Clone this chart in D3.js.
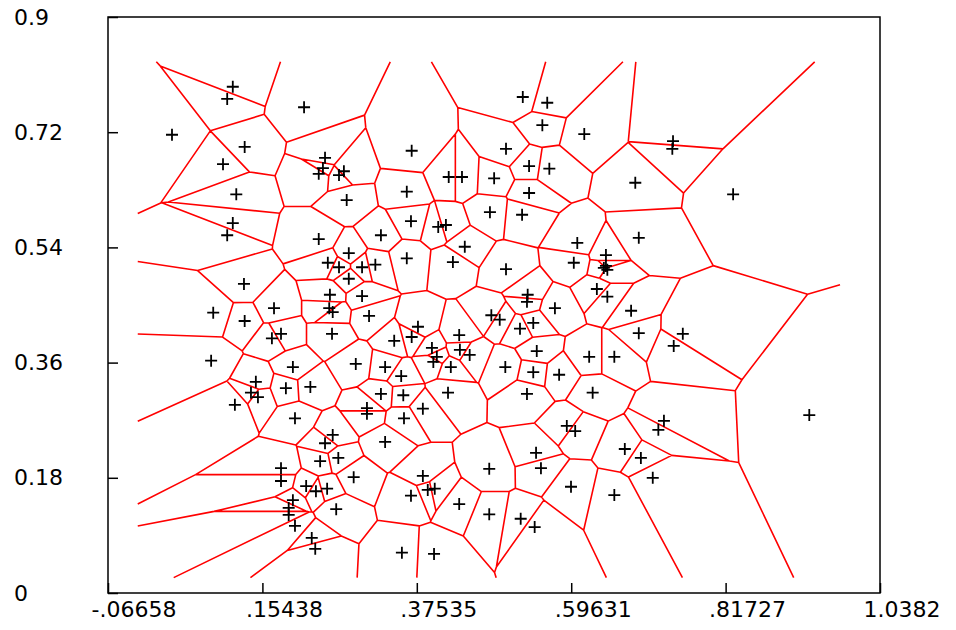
<!DOCTYPE html>
<html><head><meta charset="utf-8">
<script src="https://cdn.jsdelivr.net/npm/d3@7"></script>
<style>body{margin:0;background:#fff}</style>
</head><body>
<svg id="c" width="956" height="630"></svg>
<script>
const xTicks = [-0.06658, 0.15438, 0.37535, 0.59631, 0.81727, 1.0382];
const xTickLabels = ["-.06658", ".15438", ".37535", ".59631", ".81727", "1.0382"];
const yTicks = [0, 0.18, 0.36, 0.54, 0.72, 0.9];
const yTickLabels = ["0", "0.18", "0.36", "0.54", "0.72", "0.9"];
const xDomain = [-0.06658, 1.0382];
const yDomain = [0, 0.9];
// clipping box of the Voronoi rays (data units)
const clipBox = [-0.024, 0.024, 0.981, 0.83];

const ptX = [0.112,0.104,0.214,0.025,0.129,0.098,0.117,0.112,0.104,0.368,
0.244,0.241,0.235,0.271,0.264,0.421,0.440,0.361,0.275,0.367,
0.406,0.417,0.235,0.324,0.444,0.527,0.562,0.555,0.615,0.503,
0.536,0.565,0.486,0.688,0.536,0.480,0.526,0.605,0.693,0.742,
0.741,0.828,0.128,0.084,0.129,0.171,0.181,0.168,0.081,0.198,
0.145,0.188,0.223,0.138,0.148,0.115,0.278,0.361,0.427,0.248,
0.264,0.297,0.316,0.278,0.251,0.297,0.250,0.255,0.307,0.377,
0.254,0.368,0.436,0.343,0.397,0.437,0.451,0.404,0.399,0.424,
0.288,0.330,0.353,0.420,0.324,0.356,0.304,0.384,0.304,0.646,
0.600,0.503,0.643,0.648,0.646,0.633,0.534,0.533,0.648,0.573,
0.682,0.482,0.494,0.542,0.523,0.693,0.547,0.622,0.658,0.502,
0.542,0.579,0.627,0.533,0.756,0.743,0.937,0.201,0.181,0.181,
0.217,0.198,0.192,0.192,0.201,0.225,0.230,0.357,0.255,0.244,
0.330,0.263,0.237,0.285,0.384,0.231,0.247,0.391,0.401,0.367,
0.436,0.260,0.354,0.400,0.590,0.602,0.673,0.696,0.546,0.553,
0.479,0.713,0.596,0.658,0.479,0.524,0.544,0.729,0.721];
const ptY = [0.791,0.772,0.759,0.716,0.697,0.670,0.623,0.578,0.559,0.691,
0.680,0.664,0.655,0.659,0.653,0.650,0.650,0.627,0.614,0.581,
0.572,0.575,0.553,0.559,0.541,0.775,0.766,0.731,0.717,0.694,
0.667,0.663,0.648,0.641,0.625,0.595,0.591,0.547,0.555,0.706,
0.694,0.623,0.483,0.438,0.425,0.445,0.405,0.398,0.363,0.353,
0.330,0.320,0.322,0.313,0.306,0.294,0.531,0.523,0.517,0.516,
0.509,0.509,0.513,0.491,0.466,0.464,0.445,0.439,0.433,0.416,
0.405,0.400,0.403,0.394,0.383,0.380,0.372,0.369,0.361,0.353,
0.358,0.353,0.339,0.313,0.311,0.309,0.289,0.288,0.280,0.528,
0.516,0.506,0.508,0.505,0.511,0.475,0.466,0.455,0.463,0.445,
0.441,0.434,0.427,0.422,0.413,0.406,0.378,0.369,0.369,0.353,
0.345,0.341,0.313,0.311,0.405,0.386,0.278,0.273,0.195,0.175,
0.167,0.145,0.133,0.122,0.105,0.086,0.069,0.273,0.247,0.234,
0.236,0.211,0.206,0.181,0.183,0.159,0.163,0.161,0.163,0.152,
0.139,0.131,0.063,0.061,0.261,0.253,0.225,0.211,0.219,0.195,
0.194,0.180,0.166,0.153,0.123,0.116,0.103,0.269,0.255];

const L = 108, R = 880, T = 17, B = 593;
const svg = d3.select("#c");
const x = d3.scaleLinear().domain(xDomain).range([L, R]);
const y = d3.scaleLinear().domain(yDomain).range([B, T]);
const font = "'DejaVu Sans', sans-serif";

// Voronoi computed in data space, drawn through the scales
const pts = ptX.map((v, i) => [v, ptY[i]]);
const vor = d3.Delaunay.from(pts).voronoi(clipBox);
const path = d3.path();
const ctx = {
  moveTo: (a, b) => path.moveTo(x(a), y(b)),
  lineTo: (a, b) => path.lineTo(x(a), y(b)),
  closePath: () => path.closePath()
};
vor.render(ctx);
svg.append("path").attr("d", path.toString())
  .attr("fill", "none").attr("stroke", "#ff0000").attr("stroke-width", 1.6)
  .attr("stroke-linejoin", "round");

// points
const s = 6;
svg.append("g").selectAll("path").data(pts).join("path")
  .attr("d", d => `M${x(d[0]) - s},${y(d[1])}h${2 * s}M${x(d[0])},${y(d[1]) - s}v${2 * s}`)
  .attr("stroke", "#000").attr("stroke-width", 1.8).attr("fill", "none");

// frame
svg.append("rect").attr("x", L).attr("y", T).attr("width", R - L).attr("height", B - T)
  .attr("fill", "none").attr("stroke", "#000").attr("stroke-width", 1.5);

// axes
const gx = svg.append("g").attr("transform", `translate(0,${B})`)
  .call(d3.axisBottom(x).tickValues(xTicks).tickSize(-10).tickFormat((d, i) => xTickLabels[i]));
gx.select(".domain").remove();
gx.selectAll("line").attr("stroke", "#000").attr("stroke-width", 1.5);
gx.selectAll("text").attr("font-family", font).attr("font-size", 22).attr("fill", "#000")
  .attr("text-anchor", "start").attr("dx", -17).attr("y", 8).attr("dy", "0.71em");

const gy = svg.append("g").attr("transform", `translate(${L},0)`)
  .call(d3.axisLeft(y).tickValues(yTicks).tickSize(-10).tickFormat((d, i) => yTickLabels[i]));
gy.select(".domain").remove();
gy.selectAll("line").attr("stroke", "#000").attr("stroke-width", 1.5);
gy.selectAll("text").attr("font-family", font).attr("font-size", 22).attr("fill", "#000")
  .attr("text-anchor", "start").attr("x", 14 - L);
</script>
</body></html>
